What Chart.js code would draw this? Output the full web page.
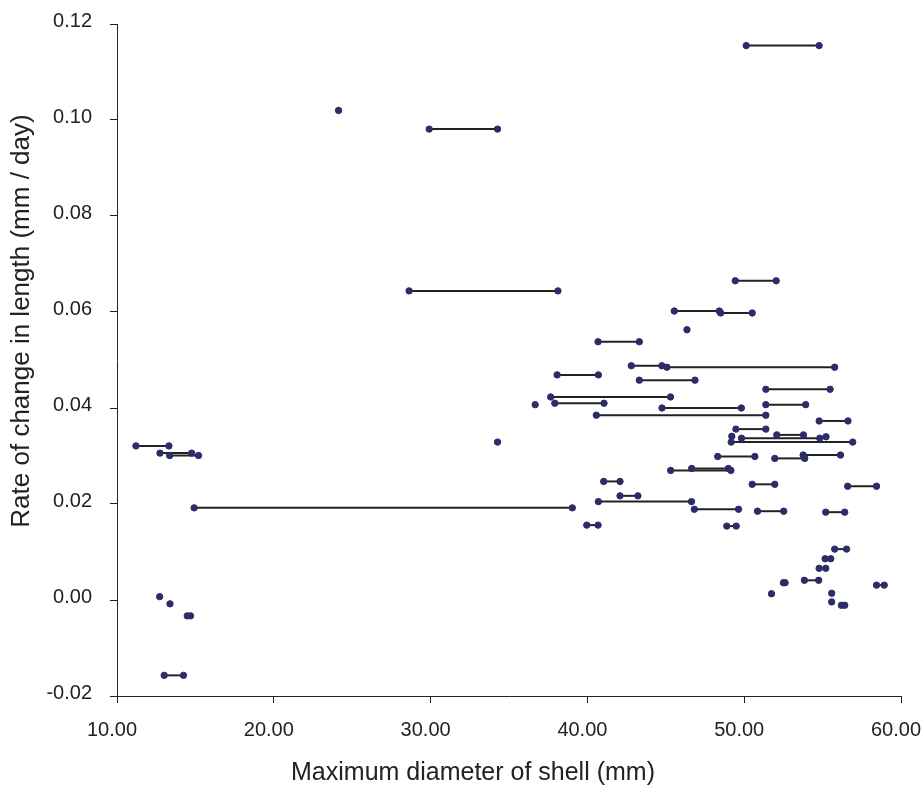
<!DOCTYPE html>
<html>
<head>
<meta charset="utf-8">
<script src="https://cdn.jsdelivr.net/npm/chart.js@4.4.1/dist/chart.umd.min.js"></script>
<style>
  body { margin: 0; background: #fff; }
  #wrap { width: 924px; height: 788px; }
</style>
</head>
<body>
<div id="wrap"><canvas id="shellChart" width="924" height="788"></canvas></div>
<script>
// paired measurements: same rate, start and end diameter
const segStartX = [50.13, 29.91, 28.63, 49.43, 45.54, 48.50, 40.68, 42.80, 45.07, 38.07,
                   43.31, 37.66, 37.92, 44.76, 40.57, 51.38, 51.38, 54.78, 49.47, 49.83,
                   52.08, 49.17, 48.31, 51.95, 53.76, 45.31, 46.65, 50.51, 56.60, 46.82,
                   50.85, 55.20, 48.89, 55.77, 55.16, 54.78, 53.84, 52.50, 58.44, 56.20,
                   41.04, 42.08, 40.70, 14.92, 39.96, 11.21, 12.74, 13.36, 14.48, 13.01];
const segEndX   = [54.78, 34.27, 38.12, 52.04, 48.41, 50.51, 43.31, 44.75, 55.77, 40.70,
                   46.86, 45.30, 41.06, 49.82, 51.38, 55.48, 53.92, 56.62, 51.38, 54.82,
                   53.78, 56.92, 50.68, 53.86, 56.14, 49.15, 48.99, 51.95, 58.44, 49.64,
                   52.52, 56.41, 49.49, 56.53, 55.52, 55.20, 54.75, 52.61, 58.93, 56.41,
                   42.08, 43.22, 46.64, 39.04, 40.68, 13.31, 14.76, 15.20, 14.69, 14.24];
const segY      = [0.1155, 0.0981, 0.0644, 0.0665, 0.0602, 0.0598, 0.0538, 0.0488, 0.0485, 0.0469,
                   0.0458, 0.0423, 0.0410, 0.0400, 0.0385, 0.0439, 0.0407, 0.0373, 0.0356, 0.0337,
                   0.0344, 0.0329, 0.0299, 0.0295, 0.0302, 0.0270, 0.0274, 0.0241, 0.0237, 0.0189,
                   0.0185, 0.0183, 0.0154, 0.0106, 0.0086, 0.0066, 0.0041, 0.0036, 0.0031, -0.0011,
                   0.0247, 0.0217, 0.0205, 0.0192, 0.0156, 0.0321, 0.0306, 0.0301, -0.0033, -0.0157];

// single measurements
const soloX = [24.13, 46.35, 36.67, 49.21, 55.22, 34.27, 51.74, 55.58, 55.58, 12.72, 13.38];
const soloY = [0.1020, 0.0563, 0.0407, 0.0341, 0.0340, 0.0329, 0.0013, 0.0014, -0.0004, 0.0007, -0.0008];

const xTicks = [10, 20, 30, 40, 50, 60];
const yTicks = [-0.02, 0, 0.02, 0.04, 0.06, 0.08, 0.10, 0.12];

const xTitle = 'Maximum diameter of shell (mm)';
const yTitle = 'Rate of change in length (mm / day)';

const ink = '#222222';
const dotColor = '#2c2d68';
const fontFamily = "'Liberation Sans', Arial, sans-serif";

const datasets = [];

// all dots in one dataset, drawn on top
const dots = [];
segY.forEach((y, i) => {
    dots.push({ x: segStartX[i], y: y });
    dots.push({ x: segEndX[i], y: y });
});
soloX.forEach((x, i) => dots.push({ x: x, y: soloY[i] }));

datasets.push({
    data: dots,
    order: 0,
    showLine: false,
    pointRadius: 3.2,
    pointBackgroundColor: dotColor,
    pointBorderColor: dotColor,
    pointBorderWidth: 1
});

// one line per pair
segY.forEach((y, i) => {
    datasets.push({
        data: [{ x: segStartX[i], y: y }, { x: segEndX[i], y: y }],
        order: 1,
        showLine: true,
        borderColor: ink,
        borderWidth: 2,
        pointRadius: 0
    });
});

// axis titles drawn where the original puts them
const axisTitles = {
    id: 'axisTitles',
    afterDraw(chart) {
        const ctx = chart.ctx;
        ctx.save();
        ctx.fillStyle = ink;
        ctx.font = '25px ' + fontFamily;
        ctx.textAlign = 'center';
        ctx.textBaseline = 'alphabetic';
        ctx.fillText(xTitle, 473, 780);
        ctx.font = '26px ' + fontFamily;
        ctx.translate(29, 321);
        ctx.rotate(-Math.PI / 2);
        ctx.fillText(yTitle, 0, 0);
        ctx.restore();
    }
};

new Chart(document.getElementById('shellChart'), {
    type: 'scatter',
    data: { datasets: datasets },
    plugins: [axisTitles],
    options: {
        responsive: false,
        animation: false,
        events: [],
        layout: { padding: { top: 24, right: 23, left: 0, bottom: 0 } },
        plugins: {
            legend: { display: false },
            tooltip: { enabled: false }
        },
        scales: {
            x: {
                type: 'linear',
                min: 10,
                max: 60,
                afterBuildTicks: s => { s.ticks = xTicks.map(v => ({ value: v })); },
                afterFit: s => { s.height = 92; s.paddingLeft = 0; s.paddingRight = 0; },
                border: { color: ink, width: 1 },
                grid: { drawOnChartArea: false, drawTicks: true, tickLength: 7, color: ink },
                ticks: {
                    color: ink,
                    padding: 15,
                    labelOffset: -5,
                    maxRotation: 0,
                    font: { family: fontFamily, size: 20 },
                    callback: v => Number(v).toFixed(2)
                }
            },
            y: {
                type: 'linear',
                min: -0.02,
                max: 0.12,
                afterBuildTicks: s => { s.ticks = yTicks.map(v => ({ value: v })); },
                afterFit: s => { s.width = 117; s.paddingTop = 0; s.paddingBottom = 0; },
                border: { color: ink, width: 1 },
                grid: { drawOnChartArea: false, drawTicks: true, tickLength: 7, color: ink },
                ticks: {
                    color: ink,
                    padding: 18,
                    labelOffset: -3,
                    font: { family: fontFamily, size: 20 },
                    callback: v => Number(v).toFixed(2)
                }
            }
        }
    }
});
</script>
</body>
</html>
